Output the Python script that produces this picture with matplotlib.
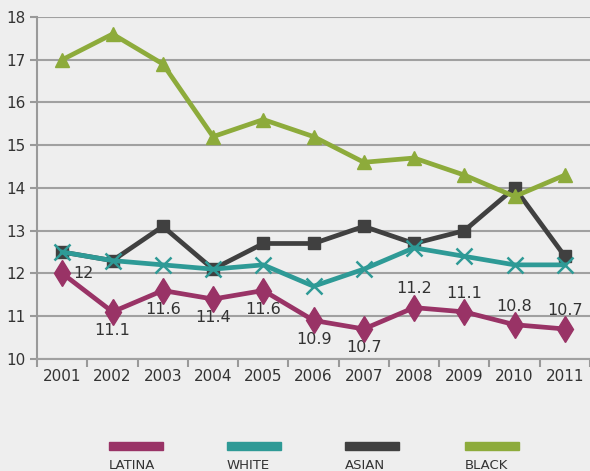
import matplotlib.pyplot as plt
import numpy as np
from matplotlib.patches import Rectangle

years = ['2001', '2002', '2003', '2004', '2005', '2006', '2007', '2008', '2009', '2010', '2011']
latina = [12.0, 11.1, 11.6, 11.4, 11.6, 10.9, 10.7, 11.2, 11.1, 10.8, 10.7]
white = [12.5, 12.3, 12.2, 12.1, 12.2, 11.7, 12.1, 12.6, 12.4, 12.2, 12.2]
asian = [12.5, 12.3, 13.1, 12.1, 12.7, 12.7, 13.1, 12.7, 13.0, 14.0, 12.4]
black = [17.0, 17.6, 16.9, 15.2, 15.6, 15.2, 14.6, 14.7, 14.3, 13.8, 14.3]
names = ['LATINA', 'WHITE', 'ASIAN', 'BLACK']

bg = '#eeeeee'
c_lat = '#993366'
c_whi = '#2e9a96'
c_asi = '#404040'
c_bla = '#8dab3b'
txt = '#333333'

plt.rcParams['font.family'] = ['DejaVu Sans']

fig = plt.figure(figsize=(5.9, 4.71), dpi=100, facecolor=bg)
ax = fig.add_axes([0.063, 0.238, 0.937, 0.726], facecolor=bg)

x = np.arange(len(years))
ax.plot(x, asian, color=c_asi, lw=3.4, marker='s', ms=9, zorder=3)
ax.plot(x, white, color=c_whi, lw=3.4, marker='x', ms=11, mew=1.8, zorder=4)
ax.plot(x, latina, color=c_lat, lw=3.4, marker='d', ms=13, zorder=5)
ax.plot(x, black, color=c_bla, lw=3.4, marker='^', ms=10, zorder=6)

# data labels for latina
for i, v in enumerate(latina):
    lab = '%g' % v
    if i == 0:
        ax.annotate(lab, (i, v), xytext=(8, 0), textcoords='offset points',
                    ha='left', va='center', fontsize=11.5, color=txt)
    elif i < 7:
        ax.annotate(lab, (i, v), xytext=(0, -8), textcoords='offset points',
                    ha='center', va='top', fontsize=11.5, color=txt)
    else:
        ax.annotate(lab, (i, v), xytext=(0, 8), textcoords='offset points',
                    ha='center', va='bottom', fontsize=11.5, color=txt)

ax.set_xlim(-0.5, len(years) - 0.5)
ax.set_ylim(10, 18)
ax.set_yticks(range(10, 19))
ax.set_xticks(x)
ax.set_xticklabels(years)
ax.set_xticks(np.arange(-0.5, len(years), 1), minor=True)
ax.tick_params(axis='x', which='major', length=0, pad=7, labelsize=11, labelcolor=txt)
ax.tick_params(axis='x', which='minor', length=6, width=1.5, color='#999999')
ax.tick_params(axis='y', length=5, width=1.5, color='#999999', labelsize=11, labelcolor=txt)
ax.grid(axis='y', color='#a0a0a0', lw=1.5)
ax.set_axisbelow(True)
for s in ['top', 'right']:
    ax.spines[s].set_visible(False)
ax.spines['left'].set_color('#999999')
ax.spines['left'].set_linewidth(1.5)
ax.spines['bottom'].set_color('#a0a0a0')
ax.spines['bottom'].set_linewidth(1.5)

# legend below the plot: bar swatch with label underneath
cols = [c_lat, c_whi, c_asi, c_bla]
lx = [109, 227, 345, 465]
for name, c, px in zip(names, cols, lx):
    fig.add_artist(Rectangle((px / 590, 1 - 450 / 471), 54 / 590, 8 / 471,
                             transform=fig.transFigure, color=c))
    fig.text(px / 590, 1 - 469 / 471, name, fontsize=9.5, color=txt,
             ha='left', va='baseline')

fig.savefig('out.png', dpi=100, facecolor=bg)
